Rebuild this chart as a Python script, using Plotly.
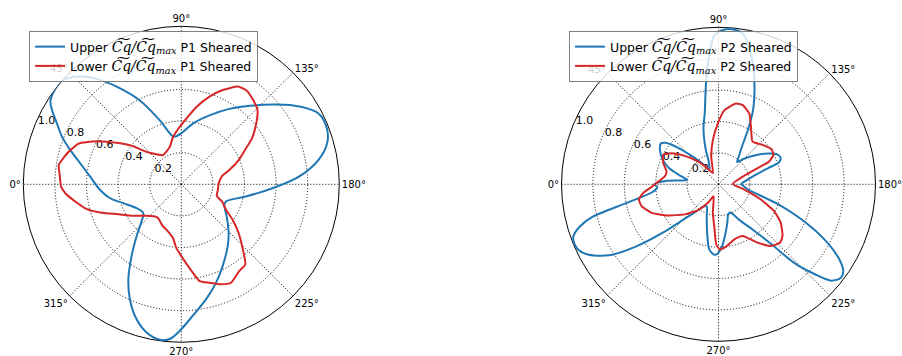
import plotly.graph_objects as go

# Azimuth (deg) and normalised Cq for each configuration
p1_upper_theta = [4.8, 11.7, 17.1, 21.7, 26.0, 29.8, 32.6, 37.1, 41.2, 45.9, 51.3, 56.5, 63.7, 71.4,
                  80.2, 84.1, 91.8, 100.8, 112.2, 122.5, 132.1, 139.8, 146.5, 152.8, 159.1, 164.4,
                  169.8, 176.3, 182.5, 190.7, 201.1, 205.5, 216.5, 225.8, 233.2, 243.2, 250.5,
                  257.8, 265.0, 270.6, 274.3, 277.9, 283.2, 288.4, 294.1, 299.1, 304.7, 310.7,
                  317.0, 322.9, 331.9, 342.0, 348.9, 356.0]
p1_upper_r = [0.579, 0.653, 0.735, 0.812, 0.875, 0.942, 0.983, 1.0, 1.0, 0.949, 0.855, 0.741, 0.592,
              0.427, 0.308, 0.306, 0.331, 0.391, 0.471, 0.566, 0.672, 0.782, 0.893, 0.978, 0.987,
              0.958, 0.884, 0.746, 0.577, 0.416, 0.303, 0.302, 0.36, 0.43, 0.49, 0.58, 0.66, 0.744,
              0.835, 0.927, 0.982, 0.993, 0.963, 0.899, 0.797, 0.689, 0.553, 0.434, 0.344, 0.302,
              0.321, 0.386, 0.459, 0.515]

p1_lower_theta = [4.4, 8.9, 15.1, 21.6, 27.0, 32.7, 38.4, 43.0, 50.5, 58.0, 72.8, 80.1, 88.3, 94.3,
                  100.9, 107.8, 113.7, 120.0, 124.4, 129.8, 135.9, 141.7, 147.1, 151.0, 157.1,
                  163.5, 168.5, 178.5, 189.8, 198.1, 202.9, 209.7, 214.6, 220.4, 226.1, 231.4,
                  236.3, 243.2, 248.3, 254.0, 259.3, 262.5, 267.5, 274.5, 278.8, 288.2, 294.5,
                  304.5, 309.5, 317.9, 326.8, 335.2, 340.9, 345.3, 350.8, 355.6, 358.9]
p1_lower_r = [0.772, 0.785, 0.749, 0.699, 0.600, 0.486, 0.388, 0.301, 0.247, 0.218, 0.248, 0.304,
              0.363, 0.416, 0.497, 0.583, 0.652, 0.714, 0.724, 0.704, 0.672, 0.601, 0.532, 0.467,
              0.394, 0.317, 0.263, 0.237, 0.234, 0.236, 0.28, 0.326, 0.395, 0.476, 0.559, 0.649,
              0.66, 0.698, 0.681, 0.648, 0.623, 0.565, 0.487, 0.404, 0.344, 0.302, 0.288, 0.259,
              0.264, 0.297, 0.363, 0.45, 0.544, 0.618, 0.68, 0.736, 0.761]

p2_upper_theta = [0, 4, 8, 12, 18, 24, 30, 35, 38, 42, 46, 52, 58, 66, 70, 75, 79, 83, 86, 88.5,
                  92, 96, 99, 102, 106.5, 111, 115, 118.5, 122, 127, 130, 135, 142, 148, 153, 157,
                  160, 162, 166, 172, 179, 184, 190, 198, 203, 207.5, 212, 215, 217.5, 220.5, 223,
                  226, 228.5, 233, 240, 247, 252, 257, 264, 268, 273, 278, 283, 290, 298, 304, 308,
                  315, 319, 323, 327, 332, 336, 340, 343, 345.5, 348.5, 353.5, 357.5]
p2_upper_r = [0.41, 0.33, 0.20, 0.24, 0.33, 0.39, 0.43, 0.45, 0.43, 0.35, 0.26, 0.17, 0.11, 0.15,
              0.24, 0.37, 0.46, 0.65, 0.83, 0.95, 0.985, 0.99, 0.975, 0.91, 0.78, 0.64, 0.52, 0.39,
              0.28, 0.21, 0.185, 0.23, 0.30, 0.37, 0.42, 0.43, 0.41, 0.33, 0.24, 0.18, 0.145, 0.16,
              0.19, 0.38, 0.575, 0.76, 0.91, 0.97, 0.98, 0.945, 0.84, 0.70, 0.51, 0.36, 0.26, 0.195,
              0.20, 0.25, 0.35, 0.415, 0.45, 0.42, 0.32, 0.22, 0.16, 0.17, 0.21, 0.32, 0.47, 0.66,
              0.83, 0.95, 0.99, 0.985, 0.925, 0.83, 0.60, 0.42, 0.39]

p2_lower_theta = [1.2, 8.4, 14.0, 21.0, 28.0, 33.5, 40.1, 48.0, 55.8, 63.4, 75.3, 82.8, 89.4, 94.6,
                  102.3, 107.0, 113.5, 119.4, 128.6, 138.2, 146.5, 151.8, 155.7, 157.4, 161.6,
                  178.7, 191.6, 199.8, 205.7, 211.7, 218.9, 223.4, 229.7, 236.2, 244.9, 253.9,
                  263.0, 269.1, 272.2, 275.0, 281.2, 292.6, 299.7, 308.5, 318.3, 328.3, 336.9,
                  344.1, 349.2, 353.5, 357.7]
p2_lower_r = [0.395, 0.346, 0.341, 0.377, 0.399, 0.359, 0.281, 0.196, 0.12, 0.08, 0.183, 0.285,
              0.388, 0.474, 0.527, 0.527, 0.492, 0.421, 0.348, 0.377, 0.405, 0.397, 0.354, 0.27,
              0.173, 0.091, 0.168, 0.287, 0.393, 0.466, 0.524, 0.54, 0.515, 0.447, 0.363, 0.365,
              0.40, 0.414, 0.382, 0.288, 0.185, 0.082, 0.136, 0.21, 0.288, 0.377, 0.463, 0.509,
              0.516, 0.482, 0.427]

angle_ticks = [0, 45, 90, 135, 180, 225, 270, 315]
angle_labels = [f"{a}°" for a in angle_ticks]
radial_ticks = [0.2, 0.4, 0.6, 0.8, 1.0]
radial_labels = ["0.2", "0.4", "0.6", "0.8", "1.0"]

BLUE = "#1f77b4"
RED = "#d62728"
MATH = ("<span style='font-family:DejaVu Serif;font-size:14px'>"
        "<i>C\u0360q/C\u0360q<sub>max</sub></i></span>")


def closed(values):
    return list(values) + [values[0]]


series = [
    (f"Upper {MATH} P1 Sheared", p1_upper_theta, p1_upper_r, BLUE, "polar", "legend", 1.0),
    (f"Lower {MATH} P1 Sheared", p1_lower_theta, p1_lower_r, RED, "polar", "legend", 0.5),
    (f"Upper {MATH} P2 Sheared", p2_upper_theta, p2_upper_r, BLUE, "polar2", "legend2", 0.8),
    (f"Lower {MATH} P2 Sheared", p2_lower_theta, p2_lower_r, RED, "polar2", "legend2", 0.5),
]

fig = go.Figure()
for name, th, r, color, sub, leg, smooth in series:
    fig.add_trace(go.Scatterpolar(
        theta=closed(th), r=closed(r), mode="lines", name=name,
        line=dict(color=color, width=2, shape="spline", smoothing=smooth),
        subplot=sub, legend=leg,
    ))

GRID_DASH = "1px,2px"


def polar_layout(xdom):
    return dict(
        domain=dict(x=xdom, y=[0.0385, 0.9261]),
        bgcolor="white",
        angularaxis=dict(
            rotation=180, direction="clockwise",
            tickmode="array", tickvals=angle_ticks, ticktext=angle_labels,
            showgrid=True, gridcolor="black", griddash=GRID_DASH, gridwidth=1,
            showline=True, linecolor="black", linewidth=1,
            ticks="outside", ticklen=0, tickcolor="rgba(0,0,0,0)",
            tickfont=dict(family="DejaVu Sans", size=10, color="black"),
            layer="below traces",
        ),
        radialaxis=dict(
            range=[0, 1.0], tickmode="array", tickvals=radial_ticks, ticktext=radial_labels,
            angle=157.5, tickangle=157.5, showline=False, ticks="",
            showgrid=True, gridcolor="black", griddash=GRID_DASH, gridwidth=1,
            tickfont=dict(family="DejaVu Sans", size=11, color="black"),
            layer="below traces",
        ),
    )


legend_common = dict(
    yanchor="top", xanchor="left", y=1 - 31 / 356,
    bgcolor="rgba(255,255,255,0.8)", bordercolor="#7f7f7f", borderwidth=1,
    font=dict(family="DejaVu Sans", size=12.5, color="black"),
)

fig.update_layout(
    width=902, height=356, autosize=False,
    margin=dict(l=0, r=0, t=0, b=0),
    paper_bgcolor="white",
    polar=polar_layout([23.3 / 902, 339.3 / 902]),
    polar2=polar_layout([561.5 / 902, 875.5 / 902]),
    legend=dict(x=29 / 902, **legend_common),
    legend2=dict(x=569 / 902, **legend_common),
)

fig.write_html("out.html")
